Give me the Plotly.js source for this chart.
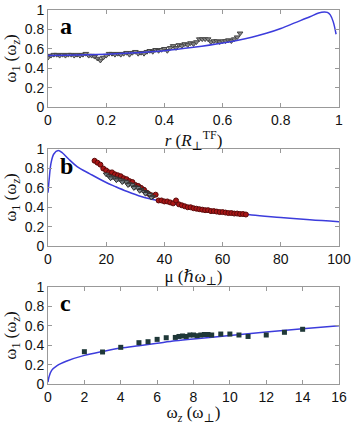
<!DOCTYPE html>
<html>
<head>
<meta charset="utf-8">
<script src="https://cdn.plot.ly/plotly-3.0.1.min.js"></script>
<style>
  html, body { margin: 0; padding: 0; background: #fff; }
  #chart { width: 353px; height: 425px; }
</style>
</head>
<body>
<div id="chart"></div>
<script>
// panel a: frequency vs radius
const aCurveR = [0, 0.1, 0.2, 0.3, 0.4, 0.5, 0.6, 0.7, 0.75, 0.8, 0.85, 0.9, 0.93, 0.95, 0.96, 0.97, 0.98, 0.99];
const aCurveW = [0.53, 0.535, 0.545, 0.56, 0.58, 0.615, 0.66, 0.72, 0.76, 0.81, 0.87, 0.93, 0.97, 0.98, 0.975, 0.95, 0.88, 0.75];
const aDataR = [0, 0.01, 0.02, 0.03, 0.04, 0.05, 0.06, 0.07, 0.08, 0.09, 0.1, 0.11, 0.12, 0.13, 0.14, 0.15, 0.16, 0.17, 0.18, 0.19,
  0.2, 0.21, 0.22, 0.23, 0.24, 0.25, 0.26, 0.27, 0.28, 0.29, 0.3, 0.31, 0.32, 0.33, 0.34, 0.35, 0.36, 0.37, 0.38, 0.39,
  0.4, 0.41, 0.42, 0.43, 0.44, 0.45, 0.46, 0.47, 0.48, 0.49, 0.5, 0.51, 0.52, 0.53, 0.54, 0.55, 0.56, 0.57, 0.58, 0.59,
  0.6, 0.61, 0.62, 0.63, 0.64, 0.65, 0.66];
const aDataW = [0.51, 0.53, 0.54, 0.54, 0.53, 0.54, 0.53, 0.54, 0.54, 0.53, 0.54, 0.53, 0.54, 0.55, 0.53, 0.53, 0.52, 0.5, 0.48, 0.51,
  0.53, 0.55, 0.55, 0.54, 0.55, 0.54, 0.55, 0.56, 0.54, 0.56, 0.57, 0.55, 0.56, 0.55, 0.57, 0.58, 0.57, 0.59, 0.58, 0.59,
  0.6, 0.58, 0.61, 0.63, 0.61, 0.64, 0.63, 0.65, 0.64, 0.66, 0.65, 0.67, 0.7, 0.7, 0.7, 0.7, 0.67, 0.68, 0.68, 0.67,
  0.68, 0.68, 0.69, 0.68, 0.7, 0.72, 0.76];

// panel b: frequency vs chemical potential
const bCurveMu = [0, 0.5, 1, 2, 3.5, 5, 7, 10, 14.4, 20, 23, 27, 32, 36, 40, 50, 60, 70, 80, 90, 100];
const bCurveW = [0.55, 0.72, 0.85, 0.95, 0.985, 0.96, 0.9, 0.82, 0.745, 0.655, 0.615, 0.565, 0.51, 0.48, 0.455, 0.4, 0.36, 0.32, 0.295, 0.27, 0.25];
const bRedMu = [16, 17, 18, 19, 20, 21, 22, 23, 24, 25, 26, 27, 28, 29, 30, 31, 32, 33, 34, 35, 36, 37, 38, 39,
  40, 41, 42, 43, 44, 45, 46, 47, 48, 49, 50, 51, 52, 53, 54, 55, 56, 57, 58, 59, 60, 61, 62, 63, 64, 65, 66, 67, 68];
const bRedW = [0.88, 0.86, 0.84, 0.8, 0.78, 0.76, 0.76, 0.74, 0.73, 0.72, 0.7, 0.69, 0.67, 0.66, 0.63, 0.62, 0.6, 0.58, 0.55, 0.53, 0.52, 0.53, 0.47, 0.47,
  0.46, 0.46, 0.45, 0.44, 0.47, 0.43, 0.42, 0.41, 0.4, 0.4, 0.39, 0.385, 0.38, 0.375, 0.37, 0.37, 0.36, 0.36, 0.355, 0.35, 0.35, 0.345, 0.34, 0.34, 0.335, 0.335, 0.33, 0.33, 0.325];
const bGrayMu = [20, 21, 22, 23, 24, 25, 26, 27, 28, 29, 30, 31, 32, 33, 34, 35, 36, 21.5, 23.5, 25.5, 27.5, 29.5, 31.5, 33.5, 35.5];
const bGrayW = [0.74, 0.72, 0.71, 0.7, 0.69, 0.68, 0.67, 0.66, 0.64, 0.63, 0.61, 0.6, 0.58, 0.56, 0.55, 0.53, 0.51, 0.7, 0.68, 0.66, 0.63, 0.6, 0.57, 0.54, 0.5];

// panel c: frequency vs axial trap frequency
const cCurveWz = [0, 0.05, 0.2, 0.5, 1, 2, 3, 4, 5, 6, 7, 8, 10, 12, 14, 16];
const cCurveW = [0.02, 0.07, 0.14, 0.19, 0.235, 0.295, 0.335, 0.37, 0.395, 0.42, 0.445, 0.465, 0.5, 0.535, 0.57, 0.6];
const cDataWz = [2, 3, 4, 5, 5.5, 6, 6.5, 7, 7.2, 7.4, 7.6, 7.8, 8, 8.2, 8.4, 8.6, 8.8, 9, 9.5, 10, 10.5, 11, 12, 13, 14];
const cDataW = [0.333, 0.33, 0.378, 0.426, 0.436, 0.46, 0.477, 0.48, 0.49, 0.495, 0.49, 0.505, 0.505, 0.498, 0.505, 0.51, 0.51, 0.505, 0.515, 0.515, 0.505, 0.49, 0.505, 0.533, 0.564];

const blue = '#3c3cdc';
const tickFont = { family: 'Liberation Sans, Arial, sans-serif', size: 14, color: '#111' };
const titleFont = { family: 'Liberation Serif, DejaVu Serif, serif', size: 17, color: '#111' };

function xAx(range, dtick, title, anchor) {
  return {
    range: range, dtick: dtick, anchor: anchor,
    domain: [0, 1],
    showgrid: false, zeroline: false, showline: true, mirror: 'ticks',
    linecolor: '#999', linewidth: 1,
    ticks: 'inside', ticklen: 4, tickcolor: '#999',
    tickfont: tickFont,
    title: { text: title, font: titleFont, standoff: 3 }
  };
}
function yAx(domain, anchor) {
  return {
    range: [0, 1], dtick: 0.2, domain: domain, anchor: anchor,
    showgrid: false, zeroline: false, showline: true, mirror: 'ticks',
    linecolor: '#999', linewidth: 1,
    ticks: 'inside', ticklen: 4, tickcolor: '#999',
    tickfont: tickFont, tickformat: '~g',
    title: { text: 'ω<sub>1</sub> (ω<sub><i>z</i></sub>)', font: titleFont, standoff: 3 }
  };
}

const traces = [
  { x: aDataR, y: aDataW, xaxis: 'x', yaxis: 'y', mode: 'markers', type: 'scatter',
    marker: { symbol: 'triangle-down', size: 5, color: '#8a8a8a', line: { color: '#444', width: 1 } } },
  { x: aCurveR, y: aCurveW, xaxis: 'x', yaxis: 'y', mode: 'lines', type: 'scatter',
    line: { color: blue, width: 1.5, shape: 'spline' } },

  { x: bCurveMu, y: bCurveW, xaxis: 'x2', yaxis: 'y2', mode: 'lines', type: 'scatter',
    line: { color: blue, width: 1.5, shape: 'spline' } },
  { x: bRedMu, y: bRedW, xaxis: 'x2', yaxis: 'y2', mode: 'markers', type: 'scatter',
    marker: { symbol: 'circle', size: 5, color: '#a81616', line: { color: '#5a0a0a', width: 1 } } },
  { x: bGrayMu, y: bGrayW, xaxis: 'x2', yaxis: 'y2', mode: 'markers', type: 'scatter',
    marker: { symbol: 'triangle-down', size: 5, color: '#7f8a90', line: { color: '#333', width: 1 } } },

  { x: cCurveWz, y: cCurveW, xaxis: 'x3', yaxis: 'y3', mode: 'lines', type: 'scatter',
    line: { color: blue, width: 1.5, shape: 'spline' } },
  { x: cDataWz, y: cDataW, xaxis: 'x3', yaxis: 'y3', mode: 'markers', type: 'scatter',
    marker: { symbol: 'square', size: 5, color: '#1f3838', line: { color: '#1f3838', width: 0 } } }
];

const panelLabel = (t, xr, yr) => ({
  text: '<b>' + t + '</b>', xref: xr + ' domain', yref: yr + ' domain',
  x: 0.035, y: 0.83, xanchor: 'left', yanchor: 'middle', showarrow: false,
  font: { family: 'Liberation Serif, DejaVu Serif, serif', size: 24, color: '#000' }
});

const layout = {
  width: 353, height: 425,
  margin: { t: 10, r: 14, b: 41, l: 48 },
  paper_bgcolor: '#fff', plot_bgcolor: '#fff',
  showlegend: false,
  xaxis: xAx([0, 1], 0.2, '<i>r</i> (<i>R</i><sub>⊥</sub><sup>TF</sup>)', 'y'),
  yaxis: yAx([0.7406, 1], 'x'),
  xaxis2: xAx([0, 100], 20, 'μ (ℏω<sub>⊥</sub>)', 'y2'),
  yaxis2: yAx([0.369, 0.628], 'x2'),
  xaxis3: xAx([0, 16], 2, 'ω<sub><i>z</i></sub> (ω<sub>⊥</sub>)', 'y3'),
  yaxis3: yAx([0, 0.2594], 'x3'),
  annotations: [panelLabel('a', 'x', 'y'), panelLabel('b', 'x2', 'y2'), panelLabel('c', 'x3', 'y3')]
};

Plotly.newPlot('chart', traces, layout, { displayModeBar: false, staticPlot: true });
</script>
</body>
</html>
